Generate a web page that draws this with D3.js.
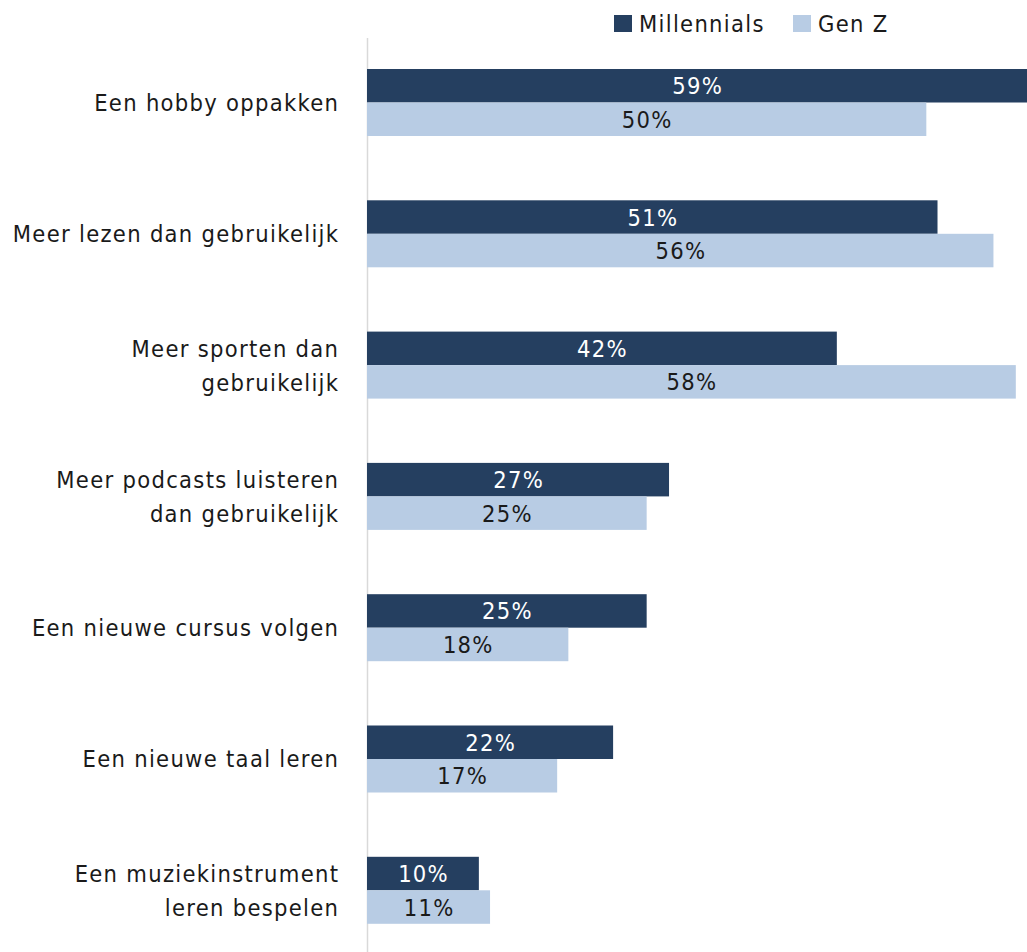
<!DOCTYPE html>
<html>
<head>
<meta charset="utf-8">
<script src="https://cdn.jsdelivr.net/npm/d3@7"></script>
<style>
  body { margin: 0; background: #fff; }
  svg text { font-family: "DejaVu Sans Condensed", "Liberation Sans Narrow", sans-serif; letter-spacing: 1.3px; }
</style>
</head>
<body>
<svg id="chart" width="1027" height="952"></svg>
<script>
// data
var categories = [
  ["Een hobby oppakken"],
  ["Meer lezen dan gebruikelijk"],
  ["Meer sporten dan", "gebruikelijk"],
  ["Meer podcasts luisteren", "dan gebruikelijk"],
  ["Een nieuwe cursus volgen"],
  ["Een nieuwe taal leren"],
  ["Een muziekinstrument", "leren bespelen"]
];
var series = ["Millennials", "Gen Z"];
var millennials = [59, 51, 42, 27, 25, 22, 10];
var genZ = [50, 56, 58, 25, 18, 17, 11];
var colors = ["#253f60", "#b8cce4"];
var textColors = ["#ffffff", "#1a1a1a"];

var svg = d3.select("#chart");
var keys = categories.map(function (c) { return c.join(" "); });
var ls = 1.3; // letter spacing, trailing gap gets compensated
var fs = 23.5;

var x = d3.scaleLinear().domain([0, 59]).range([367, 1027]);
var y = d3.scaleBand().domain(keys).range([36.85, 36.85 + 131.3 * 7]);
var inner = d3.scaleBand().domain(series).range([0, 67]);
var groupOffset = (y.step() - 67) / 2;

// axis line
svg.append("line")
  .attr("x1", 367.5).attr("x2", 367.5)
  .attr("y1", 38).attr("y2", 952)
  .attr("stroke", "#d9d9d9").attr("stroke-width", 1.5);

var rows = keys.map(function (k, i) {
  return { key: k, lines: categories[i], vals: [millennials[i], genZ[i]] };
});

var g = svg.selectAll("g.row").data(rows).enter().append("g")
  .attr("class", "row")
  .attr("transform", function (d) { return "translate(0," + (y(d.key) + groupOffset) + ")"; });

series.forEach(function (s, si) {
  g.append("rect")
    .attr("x", x(0))
    .attr("y", inner(s))
    .attr("height", inner.bandwidth())
    .attr("width", function (d) { return x(d.vals[si]) - x(0); })
    .attr("fill", colors[si]);
  g.append("text")
    .attr("x", function (d) { return (x(0) + x(d.vals[si])) / 2 + ls / 2; })
    .attr("y", inner(s) + inner.bandwidth() / 2)
    .attr("dy", "0.36em")
    .attr("text-anchor", "middle")
    .attr("font-size", fs)
    .attr("fill", textColors[si])
    .text(function (d) { return d.vals[si] + "%"; });
});

// category labels
g.each(function (d) {
  var n = d.lines.length;
  var t = d3.select(this).append("text")
    .attr("text-anchor", "end")
    .attr("font-size", fs)
    .attr("fill", "#1a1a1a");
  d.lines.forEach(function (line, li) {
    t.append("tspan")
      .attr("x", 338 + ls)
      .attr("y", 33.5 + (li - (n - 1) / 2) * 34)
      .attr("dy", "0.36em")
      .text(line);
  });
});

// legend
var legend = svg.append("g").attr("transform", "translate(614,15)");
var lx = [0, 179];
series.forEach(function (s, si) {
  legend.append("rect")
    .attr("x", lx[si]).attr("y", 0)
    .attr("width", 18).attr("height", 17)
    .attr("fill", colors[si]);
  legend.append("text")
    .attr("x", lx[si] + 25).attr("y", 8.5)
    .attr("dy", "0.36em")
    .attr("font-size", fs)
    .attr("fill", "#1a1a1a")
    .text(s);
});
</script>
</body>
</html>
